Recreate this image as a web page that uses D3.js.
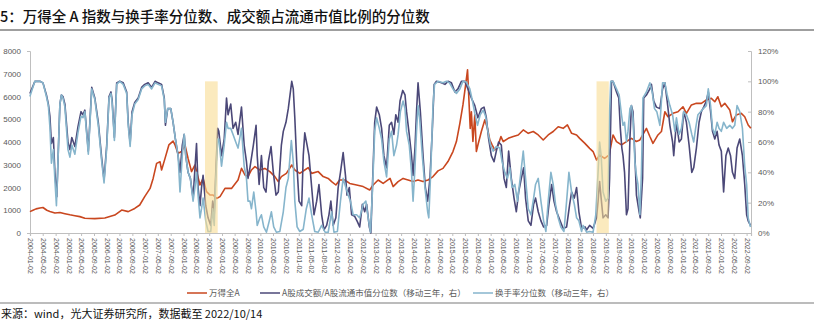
<!DOCTYPE html>
<html><head><meta charset="utf-8">
<script src="https://cdn.jsdelivr.net/npm/d3@7"></script>
<style>body{margin:0;background:#fff;overflow:hidden}</style>
</head><body>
<svg id="c" width="814" height="326"></svg>
<script>
// ---------- data (dates as decimal years) ----------
const windA = [[2004.00,940],[2004.08,1000],[2004.16,1060],[2004.26,1100],[2004.34,1120],[2004.44,1000],[2004.52,950],[2004.65,880],[2004.78,900],[2004.91,850],[2005.04,800],[2005.17,760],[2005.30,720],[2005.43,650],[2005.69,630],[2005.95,660],[2006.21,790],[2006.39,1010],[2006.56,940],[2006.73,1080],[2006.86,1230],[2006.99,1600],[2007.13,1960],[2007.21,2400],[2007.30,3060],[2007.39,3130],[2007.43,2770],[2007.52,3280],[2007.62,3870],[2007.73,4040],[2007.78,3870],[2007.86,3500],[2007.95,3580],[2008.04,3870],[2008.12,3280],[2008.21,2700],[2008.30,2990],[2008.43,2110],[2008.51,2400],[2008.60,1820],[2008.69,1670],[2008.77,1670],[2008.86,1520],[2008.95,1600],[2009.08,1960],[2009.25,1960],[2009.42,2330],[2009.51,2840],[2009.60,2550],[2009.68,2480],[2009.77,2770],[2009.86,2920],[2009.99,2770],[2010.12,2840],[2010.25,2700],[2010.38,2480],[2010.47,2260],[2010.55,2480],[2010.68,2620],[2010.82,2990],[2010.90,2770],[2011.03,2620],[2011.16,2770],[2011.25,2870],[2011.34,2620],[2011.51,2700],[2011.64,2480],[2011.77,2400],[2011.86,2260],[2011.97,2110],[2012.07,2330],[2012.20,2330],[2012.33,2180],[2012.51,2110],[2012.68,2040],[2012.85,1890],[2012.94,2110],[2013.07,2330],[2013.20,2180],[2013.38,2400],[2013.46,2040],[2013.59,2260],[2013.72,2400],[2013.85,2330],[2013.98,2260],[2014.11,2330],[2014.24,2260],[2014.37,2330],[2014.50,2480],[2014.63,2730],[2014.76,2840],[2014.89,3140],[2015.02,3580],[2015.11,4020],[2015.20,4820],[2015.28,5630],[2015.35,6510],[2015.40,7170],[2015.43,6070],[2015.47,4600],[2015.50,5330],[2015.54,4020],[2015.59,5190],[2015.63,3580],[2015.67,3870],[2015.76,4460],[2015.85,4970],[2015.92,4600],[2015.98,4090],[2016.04,3870],[2016.11,3650],[2016.20,3870],[2016.27,4240],[2016.33,4020],[2016.46,4160],[2016.59,4240],[2016.72,4310],[2016.85,4530],[2016.98,4380],[2017.11,4460],[2017.24,4310],[2017.37,4090],[2017.50,4310],[2017.63,4460],[2017.76,4670],[2017.89,4600],[2018.00,4750],[2018.11,4380],[2018.24,4310],[2018.32,4160],[2018.45,3950],[2018.58,3720],[2018.67,3580],[2018.76,3210],[2018.84,3430],[2018.97,3280],[2019.09,3430],[2019.19,4310],[2019.28,4020],[2019.41,3870],[2019.54,4020],[2019.67,4160],[2019.80,4020],[2019.89,4090],[2020.06,4600],[2020.15,4240],[2020.23,3940],[2020.36,4310],[2020.45,4460],[2020.54,5330],[2020.62,5110],[2020.75,5260],[2020.88,5330],[2021.01,5550],[2021.10,5260],[2021.23,5630],[2021.36,5700],[2021.49,5700],[2021.62,5850],[2021.75,5920],[2021.84,5770],[2021.92,5990],[2022.01,5550],[2022.10,5700],[2022.23,5410],[2022.30,4890],[2022.40,5190],[2022.53,5260],[2022.62,5110],[2022.71,4750],[2022.78,4600]];

const amountPct = [[2004.00,92],[2004.05,95],[2004.13,100],[2004.26,100],[2004.34,99],[2004.43,91],[2004.48,85],[2004.52,77],[2004.56,59],[2004.61,63],[2004.65,40],[2004.70,24],[2004.74,55],[2004.78,85],[2004.82,91],[2004.86,90],[2004.91,85],[2004.99,60],[2005.04,55],[2005.09,63],[2005.17,57],[2005.25,70],[2005.33,80],[2005.38,78],[2005.43,81],[2005.52,54],[2005.61,96],[2005.69,89],[2005.78,73],[2005.87,49],[2005.93,35],[2006.00,58],[2006.06,90],[2006.11,93],[2006.14,88],[2006.20,63],[2006.26,99],[2006.34,100],[2006.43,99],[2006.52,93],[2006.56,73],[2006.61,59],[2006.66,80],[2006.73,86],[2006.82,89],[2006.91,96],[2006.99,98],[2007.08,99],[2007.17,96],[2007.26,100],[2007.34,99],[2007.43,98],[2007.50,89],[2007.53,71],[2007.59,82],[2007.67,82],[2007.73,73],[2007.79,62],[2007.86,51],[2007.91,40],[2007.97,58],[2008.02,65],[2008.06,51],[2008.12,40],[2008.18,36],[2008.25,23],[2008.30,43],[2008.34,59],[2008.38,30],[2008.43,18],[2008.47,30],[2008.51,38],[2008.58,18],[2008.64,10],[2008.71,5],[2008.76,21],[2008.80,12],[2008.84,40],[2008.89,69],[2008.92,67],[2008.99,51],[2009.06,62],[2009.12,89],[2009.16,78],[2009.23,85],[2009.29,69],[2009.36,73],[2009.42,65],[2009.51,83],[2009.58,58],[2009.64,47],[2009.68,36],[2009.73,43],[2009.82,58],[2009.89,71],[2009.92,51],[2009.97,32],[2010.03,51],[2010.09,30],[2010.15,27],[2010.21,47],[2010.28,57],[2010.34,40],[2010.41,25],[2010.47,27],[2010.55,58],[2010.60,67],[2010.67,73],[2010.73,82],[2010.82,100],[2010.86,95],[2010.90,76],[2010.95,47],[2011.01,21],[2011.08,18],[2011.12,51],[2011.16,66],[2011.22,58],[2011.27,51],[2011.34,30],[2011.40,12],[2011.47,21],[2011.53,32],[2011.60,12],[2011.66,2],[2011.73,5],[2011.79,12],[2011.84,21],[2011.90,5],[2011.97,10],[2012.03,30],[2012.09,40],[2012.16,53],[2012.22,38],[2012.26,25],[2012.32,30],[2012.38,12],[2012.46,11],[2012.52,8],[2012.59,4],[2012.66,19],[2012.72,14],[2012.77,19],[2012.84,4],[2012.88,0],[2012.92,30],[2012.98,73],[2013.03,83],[2013.10,78],[2013.16,69],[2013.22,51],[2013.29,43],[2013.36,71],[2013.42,73],[2013.48,65],[2013.53,78],[2013.59,73],[2013.64,87],[2013.71,94],[2013.77,91],[2013.81,80],[2013.88,65],[2013.94,51],[2013.98,38],[2014.03,56],[2014.07,80],[2014.11,99],[2014.17,80],[2014.24,51],[2014.30,30],[2014.36,21],[2014.42,36],[2014.48,67],[2014.53,98],[2014.59,100],[2014.72,99],[2014.81,98],[2014.89,100],[2014.98,99],[2015.07,93],[2015.15,95],[2015.24,100],[2015.33,100],[2015.41,95],[2015.50,89],[2015.59,84],[2015.67,76],[2015.76,82],[2015.83,83],[2015.89,76],[2015.95,62],[2016.02,51],[2016.09,47],[2016.15,54],[2016.21,60],[2016.28,58],[2016.35,36],[2016.41,30],[2016.47,54],[2016.54,36],[2016.61,23],[2016.67,14],[2016.73,27],[2016.80,36],[2016.86,43],[2016.91,23],[2016.98,8],[2017.05,5],[2017.12,19],[2017.17,23],[2017.24,14],[2017.31,8],[2017.38,4],[2017.46,5],[2017.52,19],[2017.59,32],[2017.65,21],[2017.72,14],[2017.81,8],[2017.89,3],[2017.98,4],[2018.06,19],[2018.11,27],[2018.18,23],[2018.24,30],[2018.30,14],[2018.37,3],[2018.46,4],[2018.50,2],[2018.58,5],[2018.67,3],[2018.76,10],[2018.80,21],[2018.84,34],[2018.88,23],[2018.93,10],[2019.00,12],[2019.06,10],[2019.10,36],[2019.15,100],[2019.19,100],[2019.28,93],[2019.34,89],[2019.38,69],[2019.42,56],[2019.45,51],[2019.49,40],[2019.54,12],[2019.58,16],[2019.63,62],[2019.67,84],[2019.71,80],[2019.76,51],[2019.80,25],[2019.87,14],[2019.90,10],[2019.96,36],[2019.99,89],[2020.06,91],[2020.15,95],[2020.19,98],[2020.25,87],[2020.32,83],[2020.41,82],[2020.48,95],[2020.54,99],[2020.60,87],[2020.67,71],[2020.74,60],[2020.77,51],[2020.84,73],[2020.91,60],[2020.97,62],[2021.03,80],[2021.10,73],[2021.17,58],[2021.24,40],[2021.29,43],[2021.36,56],[2021.43,73],[2021.49,80],[2021.55,83],[2021.62,87],[2021.67,93],[2021.73,80],[2021.78,67],[2021.84,62],[2021.90,67],[2021.95,58],[2022.01,54],[2022.07,27],[2022.13,51],[2022.19,56],[2022.25,51],[2022.30,40],[2022.36,36],[2022.42,56],[2022.49,62],[2022.56,51],[2022.62,32],[2022.67,12],[2022.71,8],[2022.77,5]];

const turnoverPct = [[2004.00,90],[2004.05,94],[2004.13,100],[2004.26,100],[2004.34,99],[2004.43,90],[2004.48,84],[2004.52,70],[2004.56,46],[2004.61,55],[2004.65,35],[2004.69,18],[2004.74,55],[2004.78,85],[2004.82,91],[2004.86,89],[2004.91,83],[2004.99,55],[2005.04,50],[2005.09,58],[2005.17,52],[2005.25,66],[2005.33,77],[2005.38,76],[2005.43,80],[2005.52,52],[2005.61,95],[2005.69,88],[2005.78,71],[2005.87,47],[2005.93,33],[2006.00,56],[2006.06,89],[2006.11,92],[2006.14,86],[2006.20,61],[2006.26,98],[2006.34,100],[2006.43,98],[2006.52,92],[2006.56,71],[2006.61,57],[2006.66,78],[2006.73,85],[2006.82,88],[2006.91,95],[2006.99,97],[2007.08,98],[2007.17,95],[2007.26,99],[2007.34,98],[2007.43,97],[2007.50,88],[2007.53,73],[2007.59,82],[2007.67,82],[2007.73,73],[2007.79,62],[2007.86,51],[2007.91,27],[2007.97,51],[2008.02,65],[2008.06,51],[2008.12,40],[2008.18,36],[2008.25,21],[2008.30,30],[2008.34,40],[2008.38,25],[2008.43,10],[2008.47,16],[2008.51,23],[2008.58,8],[2008.64,1],[2008.71,1],[2008.76,16],[2008.80,5],[2008.84,36],[2008.89,62],[2008.92,62],[2008.99,44],[2009.06,58],[2009.12,73],[2009.16,69],[2009.23,69],[2009.29,65],[2009.36,60],[2009.42,56],[2009.51,69],[2009.58,44],[2009.64,36],[2009.68,21],[2009.73,21],[2009.77,16],[2009.83,27],[2009.89,14],[2009.92,5],[2009.99,10],[2010.03,12],[2010.09,4],[2010.16,0.5],[2010.23,7.5],[2010.29,14],[2010.35,4],[2010.42,0.5],[2010.51,1],[2010.60,14],[2010.67,30],[2010.73,36],[2010.81,61],[2010.86,47],[2010.90,21],[2010.96,4],[2011.03,1],[2011.12,2.5],[2011.20,16],[2011.27,23],[2011.34,12],[2011.42,1],[2011.51,0.5],[2011.60,5],[2011.69,0.5],[2011.77,0.5],[2011.86,14],[2011.92,0.5],[2012.01,1],[2012.09,21],[2012.16,36],[2012.23,30],[2012.29,25],[2012.35,21],[2012.42,12],[2012.51,12],[2012.59,10],[2012.68,19],[2012.75,21],[2012.81,10],[2012.87,0.5],[2012.92,27],[2012.98,67],[2013.03,76],[2013.10,69],[2013.16,62],[2013.22,47],[2013.29,37],[2013.36,62],[2013.42,67],[2013.48,51],[2013.55,58],[2013.59,65],[2013.65,80],[2013.72,87],[2013.77,82],[2013.81,67],[2013.88,58],[2013.94,40],[2013.98,21],[2014.03,43],[2014.07,67],[2014.11,84],[2014.15,76],[2014.22,51],[2014.29,30],[2014.36,14],[2014.39,10],[2014.44,40],[2014.50,84],[2014.54,98],[2014.63,100],[2014.76,99],[2014.85,100],[2014.93,99],[2015.02,95],[2015.11,92],[2015.20,95],[2015.28,100],[2015.37,99.5],[2015.46,95],[2015.52,88],[2015.59,79],[2015.66,71],[2015.73,78],[2015.81,81],[2015.87,77],[2015.93,67],[2016.00,58],[2016.07,54],[2016.15,57],[2016.24,56],[2016.30,47],[2016.37,40],[2016.44,36],[2016.50,43],[2016.56,30],[2016.63,32],[2016.70,21],[2016.77,36],[2016.85,54],[2016.91,36],[2016.98,16],[2017.05,12],[2017.12,23],[2017.17,32],[2017.24,36],[2017.31,21],[2017.38,8],[2017.44,1],[2017.50,21],[2017.57,40],[2017.63,32],[2017.69,19],[2017.76,10],[2017.83,4],[2017.91,1],[2017.98,21],[2018.04,40],[2018.11,27],[2018.18,19],[2018.24,10],[2018.30,8],[2018.37,1],[2018.41,5],[2018.50,0.5],[2018.58,1],[2018.67,0.5],[2018.74,12],[2018.80,40],[2018.84,60],[2018.88,51],[2018.93,27],[2019.00,21],[2019.06,23],[2019.10,80],[2019.13,100],[2019.19,100],[2019.28,95],[2019.35,91],[2019.41,78],[2019.45,71],[2019.49,73],[2019.54,60],[2019.58,67],[2019.63,82],[2019.67,84],[2019.71,76],[2019.76,47],[2019.80,38],[2019.84,32],[2019.89,12],[2019.93,40],[2019.97,89],[2020.06,93],[2020.15,99],[2020.21,93],[2020.27,82],[2020.33,80],[2020.41,71],[2020.48,99],[2020.54,99],[2020.60,91],[2020.67,84],[2020.74,78],[2020.80,67],[2020.84,76],[2020.91,65],[2020.97,69],[2021.03,80],[2021.10,78],[2021.17,73],[2021.24,65],[2021.29,60],[2021.34,69],[2021.40,78],[2021.47,80],[2021.54,82],[2021.62,84],[2021.67,95],[2021.73,84],[2021.78,69],[2021.84,65],[2021.90,73],[2021.95,69],[2022.01,67],[2022.07,73],[2022.15,69],[2022.23,71],[2022.30,69],[2022.36,71],[2022.42,84],[2022.49,80],[2022.56,69],[2022.62,44],[2022.67,32],[2022.71,10],[2022.77,4]];

const bands = [[2008.56, 2008.89], [2018.76, 2019.08]];
const bandTop = 100;
const leftTicks = [0,1000,2000,3000,4000,5000,6000,7000,8000];
const rightTicks = [0,20,40,60,80,100,120];
const tickYears = d3.range(2004, 2023);
const tickMonths = [0, 4, 8];
const seriesNames = ["万得全A", "A股成交额/A股流通市值分位数（移动三年，右）", "换手率分位数（移动三年，右）"];
const titleText = "5：万得全 A 指数与换手率分位数、成交额占流通市值比例的分位数";
const sourceText = "来源：wind，光大证券研究所，数据截至 2022/10/14";

// ---------- drawing ----------
const colors = ["#C9471F", "#4B4878", "#86B5CC"];
const svg = d3.select("#c");
const cjk = "'Noto Sans CJK SC','Noto Sans',sans-serif";
const latin = "'Liberation Sans',Arial,sans-serif";

function toDate(t) {
  const y = Math.floor(t);
  const a = new Date(y, 0, 1), b = new Date(y + 1, 0, 1);
  return new Date(+a + (t - y) * (b - a));
}

const L = 30, R = 751, T = 51, B = 233;
const x = d3.scaleTime().domain([new Date(2004,0,2), new Date(2022,9,14)]).range([L, R]);
const yL = d3.scaleLinear().domain([0, 8000]).range([B, T]);
const yR = d3.scaleLinear().domain([0, 120]).range([B, T]);

// title
svg.append("text").attr("x", 0).attr("y", 22).attr("font-family", cjk)
  .attr("font-size", 14.5).attr("font-weight", 500).attr("fill", "#111").text(titleText);
svg.append("line").attr("x1", 0).attr("x2", 814).attr("y1", 30).attr("y2", 30)
  .attr("stroke", "#7f7f7f").attr("stroke-width", 1.5);

// axes
const gL = svg.append("g").attr("transform", `translate(${L},0)`)
  .call(d3.axisLeft(yL).tickValues(leftTicks).tickSize(3).tickFormat(d3.format("d")));
const gR = svg.append("g").attr("transform", `translate(${R},0)`)
  .call(d3.axisRight(yR).tickValues(rightTicks).tickSize(-3).tickPadding(7).tickFormat(d => d + "%"));
const xTicks = [];
tickYears.forEach(y => tickMonths.forEach(m => xTicks.push(new Date(y, m, 2))));
const gX = svg.append("g").attr("transform", `translate(0,${B})`)
  .call(d3.axisBottom(x).tickValues(xTicks).tickSize(3).tickFormat(d3.timeFormat("%Y-%m-%d")));
[gL, gR, gX].forEach(g => {
  g.select(".domain").attr("stroke", "#bfbfbf");
  g.selectAll(".tick line").attr("stroke", "#bfbfbf");
  g.selectAll("text").attr("fill", "#595959").attr("font-family", latin).attr("font-size", 8);
});
gL.selectAll(".tick line").attr("stroke", "none");
gL.selectAll("text").attr("dx", -3);
gX.select(".domain").attr("stroke-width", 1.2);
gX.selectAll("text").attr("font-size", 7).attr("text-anchor", "start")
  .attr("transform", "rotate(90)").attr("y", 0).attr("x", 5).attr("dy", "0.35em");

// lines
const lineL = d3.line().x(d => x(toDate(d[0]))).y(d => yL(d[1]));
const lineR = d3.line().x(d => x(toDate(d[0]))).y(d => yR(d[1]));
svg.append("path").datum(windA).attr("d", lineL).attr("fill", "none")
  .attr("stroke", colors[0]).attr("stroke-width", 1.6).attr("stroke-linejoin", "round");
svg.append("path").datum(amountPct).attr("d", lineR).attr("fill", "none")
  .attr("stroke", colors[1]).attr("stroke-width", 1.6).attr("stroke-linejoin", "round");
svg.append("path").datum(turnoverPct).attr("d", lineR).attr("fill", "none")
  .attr("stroke", colors[2]).attr("stroke-width", 1.6).attr("stroke-linejoin", "round");

// highlight bands (semi-transparent, over lines)
svg.selectAll("rect.band").data(bands).enter().append("rect").attr("class", "band")
  .attr("x", d => x(toDate(d[0]))).attr("width", d => x(toDate(d[1])) - x(toDate(d[0])))
  .attr("y", yR(bandTop)).attr("height", yR(0) - yR(bandTop))
  .attr("fill", "#F9DC92").attr("fill-opacity", 0.6);

// legend
const legX = [187, 260, 473];
seriesNames.forEach((n, i) => {
  svg.append("line").attr("x1", legX[i]).attr("x2", legX[i] + 20).attr("y1", 293).attr("y2", 293)
    .attr("stroke", colors[i]).attr("stroke-width", 1.5);
  svg.append("text").attr("x", legX[i] + 22).attr("y", 296).attr("font-family", cjk)
    .attr("font-size", 8.5).attr("fill", "#595959").text(n);
});
svg.append("line").attr("x1", 0).attr("x2", 814).attr("y1", 303).attr("y2", 303)
  .attr("stroke", "#a6a6a6").attr("stroke-width", 1.5);

// source
svg.append("text").attr("x", 1).attr("y", 318).attr("font-family", cjk)
  .attr("font-size", 11).attr("fill", "#111").text(sourceText);
</script>
</body></html>
